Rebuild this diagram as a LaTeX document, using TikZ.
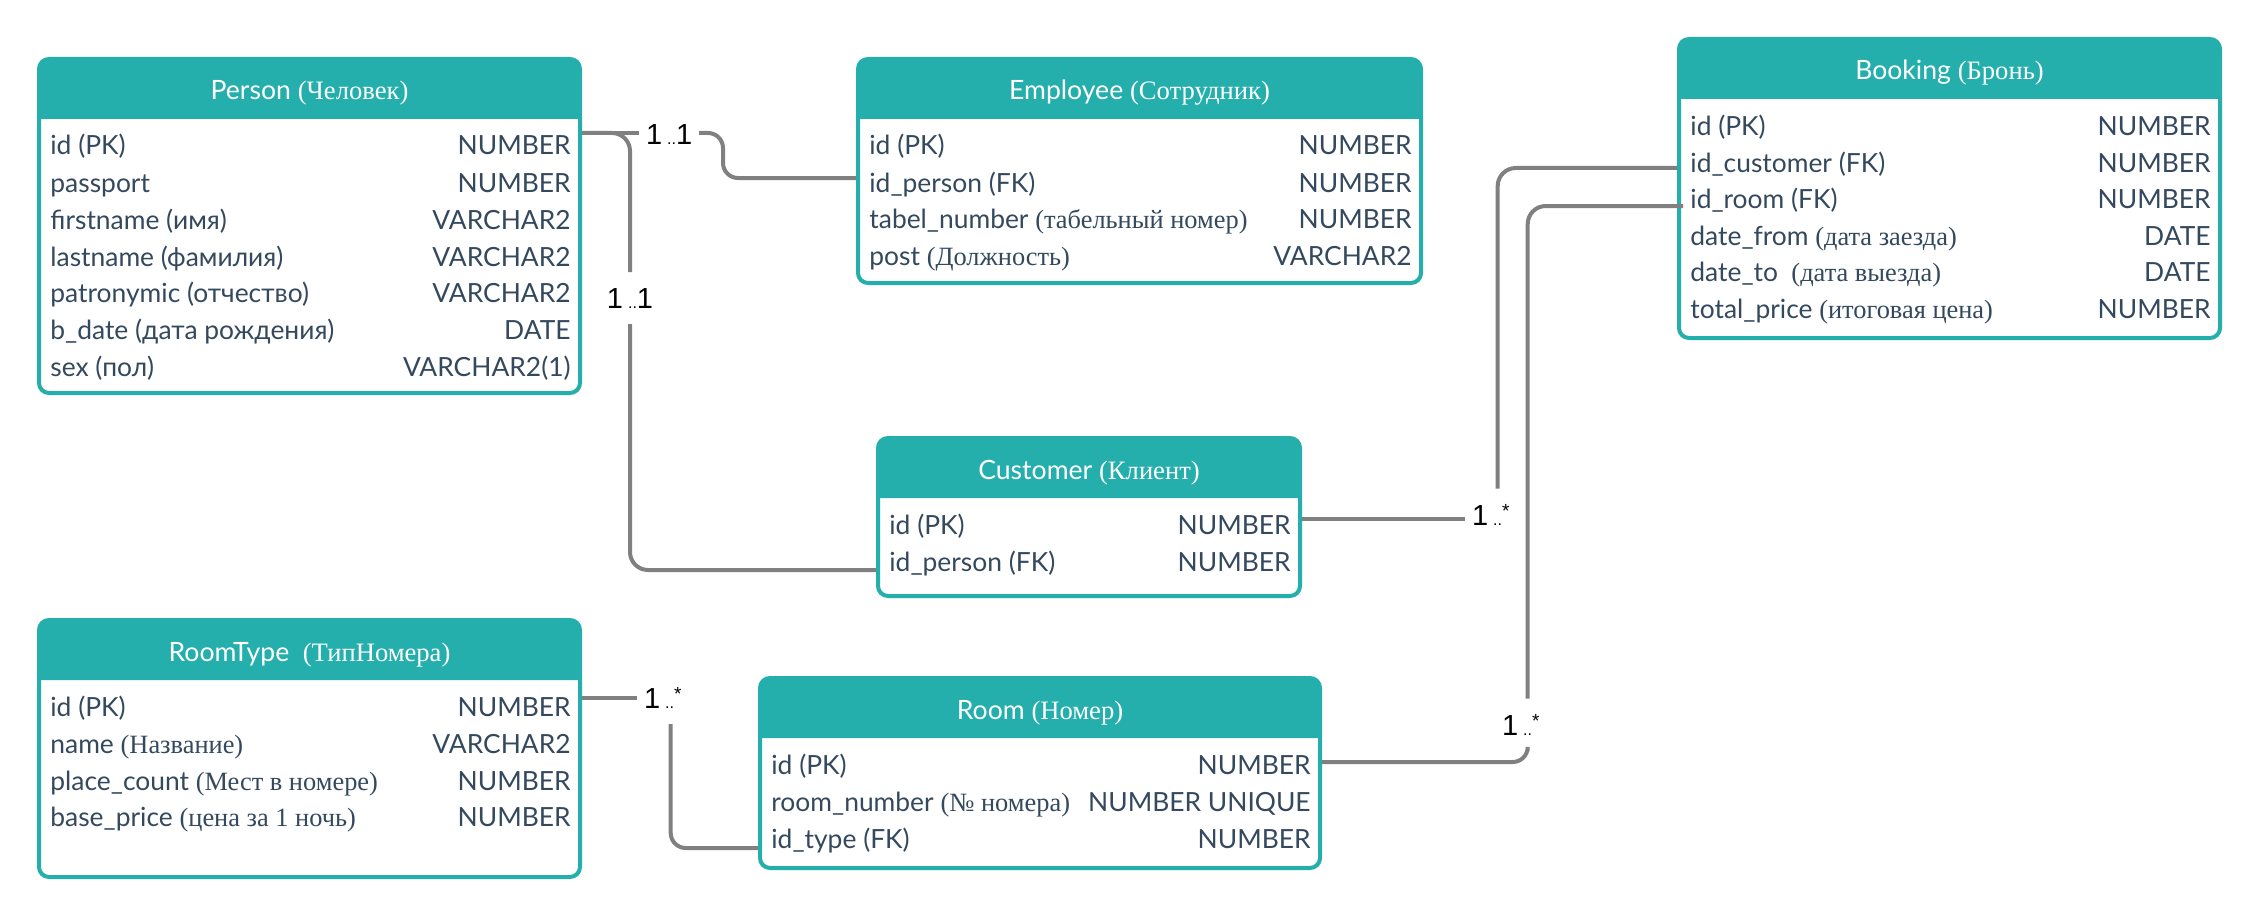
\documentclass[tikz,border=0pt]{standalone}
\usepackage{fontspec}
\setmainfont{Lato}
\newfontfamily\srf{Liberation Serif}
\newfontfamily\lblf{Liberation Sans}
\usetikzlibrary{calc}
\definecolor{teal1}{RGB}{36,175,172}
\definecolor{txt}{RGB}{52,73,94}
\definecolor{conn}{RGB}{128,128,128}
\tikzset{
  tblbox/.style={draw=teal1, line width=2pt, rounded corners=5pt, inner sep=0pt},
  ttl/.style={anchor=base, inner sep=0pt, text=white, font=\fontsize{13.3}{16}\selectfont},
  rowl/.style={anchor=base west, inner sep=0pt, text=txt, font=\fontsize{13.2}{16}\selectfont},
  rowr/.style={anchor=base east, inner sep=0pt, text=txt, font=\fontsize{13.2}{16}\selectfont},
  lab/.style={inner sep=0pt, outer xsep=3.5pt, outer ysep=8pt, text=black, font=\lblf\fontsize{14.5}{16}\selectfont},
  conn/.style={draw=conn, line width=2pt},
}
\newcommand\ertable[6]{%
  \fill[teal1, rounded corners=5pt] (#2,#3+60) -- (#2,#3) -- (#4,#3) -- (#4,#3+60);
  \node[tblbox, minimum width={(#4-#2)*0.5pt}, minimum height={(#5-#3)*0.5pt}] (#1) at ({(#2+#4)/2},{(#3+#5)/2}) {};
  \node[ttl] (#1-title) at ({(#2+#4)/2},#3+41) {#6};
}
\newcommand\errow[6]{%
  \node[rowl] (#1-l) at (#2+11,#4) {#5};
  \node[rowr] (#1-r) at (#3-9,#4) {#6};
}
\newcommand\dts{{\fontsize{8}{8}\selectfont..}}
\newcommand\oneone{1\hspace{2.5pt}\dts 1}
\newcommand\onemany{1\hspace{2.5pt}\dts\raisebox{3.6pt}{\fontsize{9.5}{9}\selectfont*}}
\begin{document}
\begin{tikzpicture}[x=0.5pt,y=-0.5pt]
\fill[white] (0,0) rectangle (2260,920);
\useasboundingbox (0,0) rectangle (2260,920);

% Person
\ertable{person}{39}{59}{580}{393}{Person {\srf(Человек)}}
\errow{person-1}{39}{580}{155}{id (PK)}{NUMBER}
\errow{person-2}{39}{580}{192}{passport}{NUMBER}
\errow{person-3}{39}{580}{229}{firstname (имя)}{VARCHAR2}
\errow{person-4}{39}{580}{266}{lastname (фамилия)}{VARCHAR2}
\errow{person-5}{39}{580}{302}{patronymic (отчество)}{VARCHAR2}
\errow{person-6}{39}{580}{339}{b\_date (дата рождения)}{DATE}
\errow{person-7}{39}{580}{376}{sex (пол)}{VARCHAR2(1)}

% Employee
\ertable{employee}{858}{59}{1421}{283}{Employee {\srf(Сотрудник)}}
\errow{employee-1}{858}{1421}{155}{id (PK)}{NUMBER}
\errow{employee-2}{858}{1421}{192}{id\_person (FK)}{NUMBER}
\errow{employee-3}{858}{1421}{228}{tabel\_number {\srf(табельный номер)}}{NUMBER}
\errow{employee-4}{858}{1421}{265}{post {\srf(Должность)}}{VARCHAR2}

% Booking
\ertable{booking}{1679}{39}{2220}{338}{Booking {\srf(Бронь)}}
\errow{booking-1}{1679}{2220}{135}{id (PK)}{NUMBER}
\errow{booking-2}{1679}{2220}{172}{id\_customer (FK)}{NUMBER}
\errow{booking-3}{1679}{2220}{208}{id\_room (FK)}{NUMBER}
\errow{booking-4}{1679}{2220}{245}{date\_from {\srf(дата заезда)}}{DATE}
\errow{booking-5}{1679}{2220}{281}{date\_to\ \ {\srf(дата выезда)}}{DATE}
\errow{booking-6}{1679}{2220}{318}{total\_price {\srf(итоговая цена)}}{NUMBER}

% Customer
\ertable{customer}{878}{438}{1300}{596}{Customer {\srf(Клиент)}}
\errow{customer-1}{878}{1300}{534}{id (PK)}{NUMBER}
\errow{customer-2}{878}{1300}{571}{id\_person (FK)}{NUMBER}

% RoomType
\ertable{roomtype}{39}{620}{580}{877}{RoomType\ \ {\srf(ТипНомера)}}
\errow{roomtype-1}{39}{580}{716}{id (PK)}{NUMBER}
\errow{roomtype-2}{39}{580}{753}{name {\srf(Название)}}{VARCHAR2}
\errow{roomtype-3}{39}{580}{790}{place\_count {\srf(Мест в номере)}}{NUMBER}
\errow{roomtype-4}{39}{580}{826}{base\_price {\srf(цена за 1 ночь)}}{NUMBER}

% Room
\ertable{room}{760}{678}{1320}{868}{Room {\srf(Номер)}}
\errow{room-1}{760}{1320}{774}{id (PK)}{NUMBER}
\errow{room-2}{760}{1320}{811}{room\_number {\srf(№ номера)}}{NUMBER UNIQUE}
\errow{room-3}{760}{1320}{848}{id\_type (FK)}{NUMBER}

% multiplicity labels
\node[lab, anchor=base west] (lab1) at (639,145) {\oneone};
\node[lab, anchor=base] (lab2) at (630,308) {\oneone};
\node[lab, anchor=base west] (lab3) at (1465,525) {\onemany};
\node[lab, anchor=base west] (lab4) at (1495,735) {\onemany};
\node[lab, anchor=base west] (lab5) at (637,708) {\onemany};

% connectors
\draw[conn] (person.east |- 0,133) -- (lab1.west |- 0,133);
\draw[conn, rounded corners=7.5pt] (lab1.east |- 0,133) -- (723,133) -- (723,178) -- (employee.west |- 0,178);
\draw[conn, rounded corners=9pt] (person.east |- 0,133) -| (lab2.north);
\draw[conn, rounded corners=9pt] (lab2.south) |- (customer.west |- 0,570);
\draw[conn] (customer.east |- 0,519) -- (lab3.west |- 0,519);
\draw[conn, rounded corners=9pt] ([xshift=3.5pt]lab3.north) |- (booking.west |- 0,168);
\draw[conn, rounded corners=9pt] ([xshift=3.5pt]lab4.north) |- ([xshift=3pt]booking.west |- 0,206);
\draw[conn, rounded corners=7.5pt] ([xshift=3.5pt]lab4.south) |- (room.east |- 0,762);
\draw[conn] (roomtype.east |- 0,698) -- (lab5.west |- 0,698);
\draw[conn, rounded corners=7.5pt] ([xshift=4pt]lab5.south) |- (room.west |- 0,848);
\end{tikzpicture}
\end{document}
